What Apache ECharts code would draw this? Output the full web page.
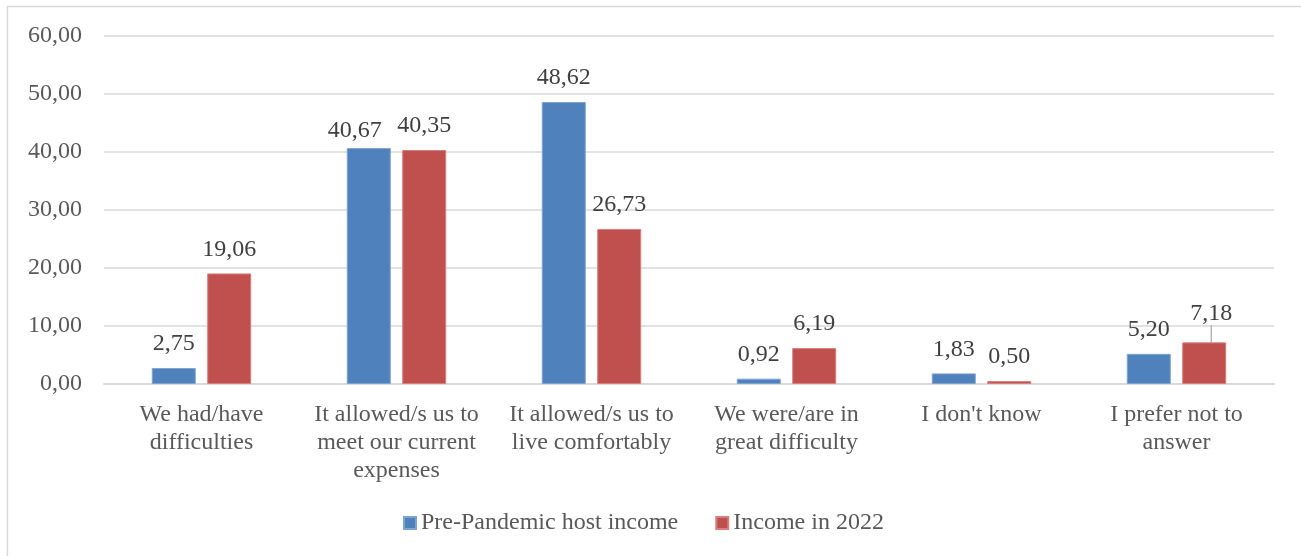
<!DOCTYPE html>
<html><head><meta charset="utf-8">
<script src="https://cdn.jsdelivr.net/npm/echarts@6/dist/echarts.min.js"></script>
<style>html,body{margin:0;padding:0;background:#fff}#c{width:1301px;height:556px}</style>
</head><body><div id="c"></div>
<script>
var categories = ["We had/have\ndifficulties", "It allowed/s us to\nmeet our current\nexpenses", "It allowed/s us to\nlive comfortably", "We were/are in\ngreat difficulty", "I don't know", "I prefer not to\nanswer"];
var seriesNames = ["Pre-Pandemic host income", "Income in 2022"];
var prePandemic = [2.75, 40.67, 48.62, 0.92, 1.83, 5.20];
var income2022 = [19.06, 40.35, 26.73, 6.19, 0.50, 7.18];
var yTicks = [0, 10, 20, 30, 40, 50, 60];

var FONT = "'Liberation Serif', serif";
var fmt = function (v) { return v.toFixed(2).replace('.', ','); };

// label nudges (style only), keyed by category index
var preNudge = { 1: [-14, 7] };
var incNudge = { 1: [21, 7] };
var movedIndex = income2022.length - 1;

function items(arr, nudge, guideIndex) {
  return arr.map(function (v, i) {
    var it = { value: v };
    if (nudge[i]) it.label = { offset: nudge[i] };
    if (i === guideIndex) it.labelLine = { show: true, lineStyle: { color: '#a6a6a6', width: 1.2 } };
    return it;
  });
}

var labelBase = { show: true, position: 'top', distance: 12, fontFamily: FONT, fontSize: 24, color: '#404040', formatter: function (p) { return fmt(p.value); } };

var chart = echarts.init(document.getElementById('c'), null, { renderer: 'canvas' });
chart.setOption({
  animation: false,
  backgroundColor: '#ffffff',
  textStyle: { fontFamily: FONT },
  graphic: [{
    type: 'rect', shape: { x: 7.5, y: 6.5, width: 1310, height: 560 },
    style: { fill: 'none', stroke: '#d9d9d9', lineWidth: 1.5 }, silent: true, z: -1
  }],
  grid: { left: 104, right: 27, top: 36, bottom: 172, containLabel: false },
  legend: {
    bottom: 16, left: 398, itemWidth: 12, itemHeight: 12, itemGap: 37,
    icon: 'rect',
    textStyle: { fontFamily: FONT, fontSize: 24, color: '#595959' },
    data: seriesNames
  },
  xAxis: {
    type: 'category', data: categories,
    axisLine: { show: true, lineStyle: { color: '#d9d9d9', width: 2 } },
    axisTick: { show: false },
    axisLabel: { fontFamily: FONT, fontSize: 24, color: '#595959', lineHeight: 28, margin: 17, interval: 0, align: 'center' }
  },
  yAxis: {
    type: 'value', min: yTicks[0], max: yTicks[yTicks.length - 1], interval: 10,
    axisLine: { show: false }, axisTick: { show: false },
    splitLine: { lineStyle: { color: '#d9d9d9', width: 1.5 } },
    axisLabel: { fontFamily: FONT, fontSize: 24, color: '#595959', margin: 22, formatter: function (v) { return fmt(v); } }
  },
  series: [
    {
      name: seriesNames[0], type: 'bar', data: items(prePandemic, preNudge, -1),
      barWidth: 44, barGap: '26%',
      itemStyle: { color: '#4f81bd', borderColor: '#7fa3d1', borderWidth: 1 },
      label: labelBase
    },
    {
      name: seriesNames[1], type: 'bar', data: items(income2022, incNudge, movedIndex),
      barWidth: 44,
      itemStyle: { color: '#c0504d', borderColor: '#d67f7d', borderWidth: 1 },
      label: labelBase,
      labelLine: { show: false, lineStyle: { color: '#a6a6a6', width: 1.2 } },
      labelLayout: function (p) {
        if (p.dataIndex === movedIndex) {
          return { dx: 7, dy: -5 };
        }
        return {};
      }
    }
  ]
});
</script></body></html>
